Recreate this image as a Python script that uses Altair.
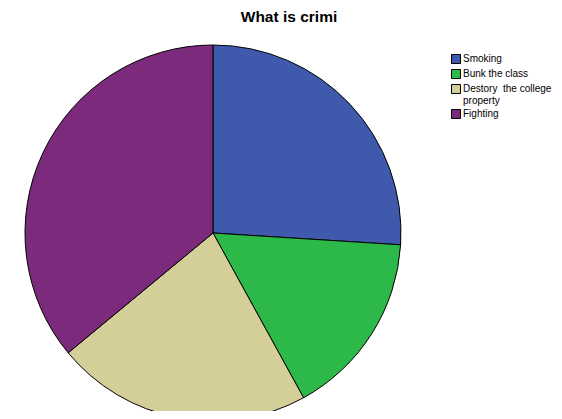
import altair as alt
import pandas as pd

categories = ["Smoking", "Bunk the class", "Destory  the college property", "Fighting"]
counts = [13, 8, 11, 18]
colors = ["#3F5AAC", "#2DB84A", "#D4CF99", "#7C2A7B"]

df = pd.DataFrame({"category": categories, "count": counts, "idx": list(range(len(categories)))})

label_expr = ("datum.label == 'Destory  the college property' ? "
              "['Destory\u00a0 the college', 'property'] : datum.label")

chart = alt.Chart(df).mark_arc(radius=188, stroke="black", strokeWidth=1).encode(
    theta=alt.Theta("count:Q", stack=True),
    color=alt.Color(
        "category:N",
        scale=alt.Scale(domain=categories, range=colors),
        sort=categories,
        legend=alt.Legend(
            title=None, orient="none", legendX=443, legendY=16,
            symbolType="square", symbolSize=81, symbolStrokeColor="black",
            symbolStrokeWidth=1, labelFont="Liberation Sans", labelFontSize=10,
            labelColor="black", rowPadding=1, labelOffset=2, labelExpr=label_expr,
        ),
    ),
    order=alt.Order("idx:Q"),
    x=alt.value(205),
    y=alt.value(195),
).properties(
    width=546,
    height=373,
    autosize="none",
    padding={"left": 0, "top": 30, "right": 0, "bottom": 0},
    title=alt.TitleParams("What is crimi", fontSize=15.5, font="Liberation Sans",
                          fontWeight="bold", anchor="middle", dx=8, offset=13, color="black"),
).configure_view(stroke=None)

chart.save("out.html", embed_options={"renderer": "svg", "actions": False})
